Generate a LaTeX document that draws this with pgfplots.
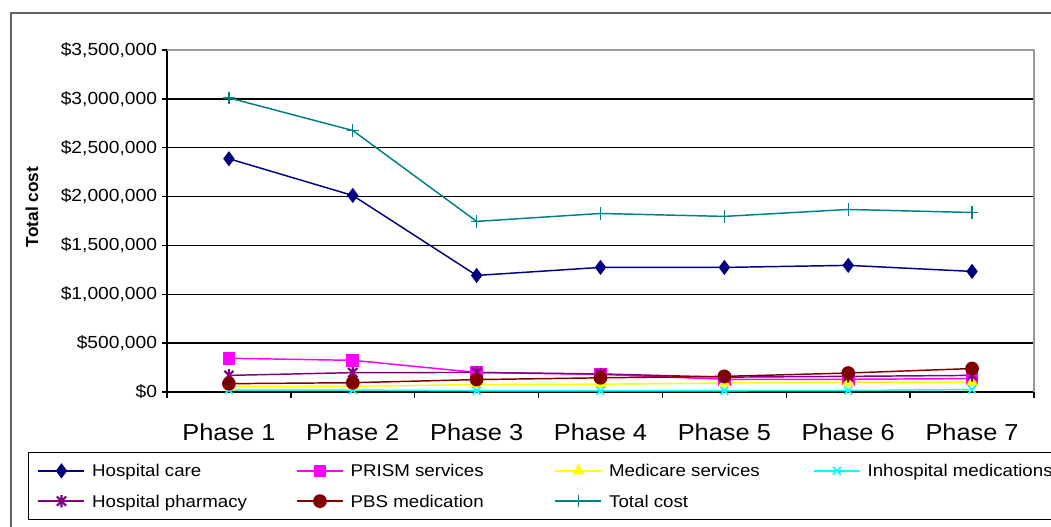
\documentclass[border=0pt]{standalone}
\usepackage{fontspec}
\setmainfont[FakeStretch=1.1]{Liberation Sans}
\newfontfamily\labelfont{Liberation Sans}
\usepackage{pgfplots}
\usepackage{pgfplotstable}
\pgfplotsset{compat=1.18}

\definecolor{carecol}{RGB}{0,0,128}
\definecolor{prismcol}{RGB}{255,0,255}
\definecolor{medicol}{RGB}{255,255,0}
\definecolor{inhospcol}{RGB}{0,255,255}
\definecolor{pharmcol}{RGB}{128,0,128}
\definecolor{pbscol}{RGB}{128,0,0}
\definecolor{totalcol}{RGB}{0,128,128}

% x-shaped star with a vertical stroke
\pgfdeclareplotmark{xstar}{%
  \pgfpathmoveto{\pgfqpoint{-.75\pgfplotmarksize}{-.75\pgfplotmarksize}}%
  \pgfpathlineto{\pgfqpoint{.75\pgfplotmarksize}{.75\pgfplotmarksize}}%
  \pgfpathmoveto{\pgfqpoint{-.75\pgfplotmarksize}{.75\pgfplotmarksize}}%
  \pgfpathlineto{\pgfqpoint{.75\pgfplotmarksize}{-.75\pgfplotmarksize}}%
  \pgfpathmoveto{\pgfqpoint{0pt}{-\pgfplotmarksize}}%
  \pgfpathlineto{\pgfqpoint{0pt}{\pgfplotmarksize}}%
  \pgfusepathqstroke}

% cost per phase
\pgfplotstableread{
x care    prism  medicare inhosp pharm  pbs    total
0 2387000 345000 54000    20000  170000 85000  3010000
1 2011000 324000 58000    20000  198000 95000  2676000
2 1193000 200000 76000    12000  200000 127000 1746000
3 1275000 180000 80000    12000  185000 145000 1827000
4 1275000 130000 92000    12000  152000 160000 1797000
5 1296000 130000 100000   15000  160000 194000 1868000
6 1234000 137000 100000   25000  170000 240000 1837000
}\costdata

\newcommand{\entry}[2]{\makebox[#1][l]{\strut #2}}
\newcommand{\toplabel}{\$3,500,000}

\begin{document}
\begin{tikzpicture}
\path[use as bounding box] (0,0) rectangle (788.25pt,395.25pt);
\draw[draw=black!60, line width=1.5pt] (800pt,385.5pt) -- (8.25pt,385.5pt) -- (8.25pt,-5pt);
\begin{axis}[
  at={(125.25pt,101.25pt)}, anchor=south west,
  scale only axis, width=650.25pt, height=256.5pt,
  clip=false,
  xmin=-0.5, xmax=6.5, ymin=0, ymax=3500000,
  scaled y ticks=false,
  axis x line*=bottom, axis y line*=left,
  axis line style={black, line width=1.1pt},
  xtick={0,...,6},
  xticklabels={Phase 1,Phase 2,Phase 3,Phase 4,Phase 5,Phase 6,Phase 7},
  major x tick style={draw=none},
  minor xtick={-0.5,0.5,1.5,2.5,3.5,4.5,5.5,6.5},
  tick align=outside,
  major tick length=4pt, minor tick length=4.5pt,
  tick style={black, line width=1pt},
  ytick={0,500000,1000000,1500000,2000000,2500000,3000000},
  yticklabels={{\$0},{\$500,000},{\$1,000,000},{\$1,500,000},{\$2,000,000},{\$2,500,000},{\$3,000,000}},
  extra y ticks={3500000},
  extra y tick labels={\toplabel},
  extra y tick style={grid=none},
  ymajorgrids,
  grid style={black, line width=1.1pt},
  yticklabel style={font=\fontsize{13.1}{15}\selectfont},
  xticklabel style={font=\fontsize{17.3}{20}\selectfont, yshift=-16pt},
  ylabel={\labelfont\bfseries Total cost},
  every axis y label/.style={at={(axis description cs:-0.1557,0.541)}, anchor=center, rotate=90},
  ylabel style={font=\fontsize{13}{15}\selectfont},
  legend columns=4,
  legend cell align=left,
  legend style={at={(axis description cs:-0.1603,-0.1754)}, anchor=north west,
    draw=black, line width=1.1pt,
    font=\fontsize{12.75}{15.3}\selectfont,
    inner xsep=6.75pt, inner ysep=7.5pt,
    row sep=10.5pt,
    nodes={inner sep=0pt},
    /tikz/every odd column/.append style={column sep=5.25pt}},
  legend image code/.code={\draw[mark repeat=2,mark phase=2] plot coordinates {(0pt,0pt) (17.25pt,0pt) (34.5pt,0pt)};},
]
\addplot[color=carecol, line width=1.1pt, mark=diamond*, mark size=4.8pt, mark options={solid, fill=carecol}]
  table[x=x, y=care]{\costdata};
\addlegendentry{\entry{153pt}{Hospital care}}
\addplot[color=prismcol, line width=1.1pt, mark=square*, mark size=4.2pt, mark options={solid, fill=prismcol}]
  table[x=x, y=prism]{\costdata};
\addlegendentry{\entry{153pt}{PRISM services}}
\addplot[color=medicol, line width=1.1pt, mark=triangle*, mark size=4.2pt, mark options={solid, fill=medicol}]
  table[x=x, y=medicare]{\costdata};
\addlegendentry{\entry{153pt}{Medicare services}}
\addplot[color=inhospcol, line width=1.1pt, mark=x, mark size=4.2pt, mark options={solid, line width=1.3pt}]
  table[x=x, y=inhosp]{\costdata};
\addlegendentry{\entry{160pt}{Inhospital medications}}
\addplot[color=pharmcol, line width=1.1pt, mark=xstar, mark size=4.6pt, mark options={solid, line width=1.6pt}]
  table[x=x, y=pharm]{\costdata};
\addlegendentry{\entry{153pt}{Hospital pharmacy}}
\addplot[color=pbscol, line width=1.1pt, mark=*, mark size=4.6pt, mark options={solid, fill=pbscol}]
  table[x=x, y=pbs]{\costdata};
\addlegendentry{\entry{153pt}{PBS medication}}
\addplot[color=totalcol, line width=1.1pt, mark=+, mark size=4.6pt, mark options={solid, line width=1pt}]
  table[x=x, y=total]{\costdata};
\addlegendentry{\entry{153pt}{Total cost}}
\draw[draw=black!40, line width=1.1pt] (rel axis cs:0,1) -- (rel axis cs:1,1) -- (rel axis cs:1,0);
\end{axis}
\end{tikzpicture}
\end{document}
